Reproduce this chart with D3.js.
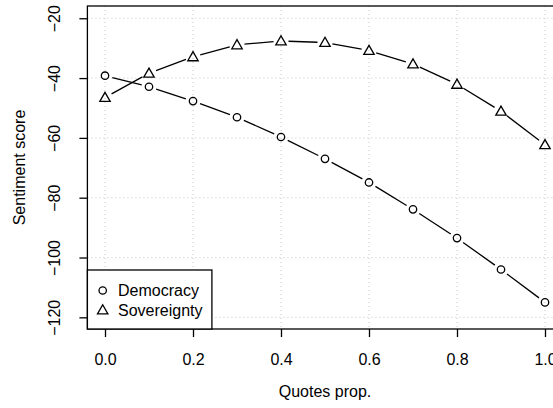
<!DOCTYPE html>
<html>
<head>
<meta charset="utf-8">
<script src="https://cdn.jsdelivr.net/npm/d3@7"></script>
<style>
  body { margin: 0; background: #fff; }
  svg { display: block; font-family: "Liberation Sans", Arial, sans-serif; }
</style>
</head>
<body>
<div id="chart"></div>
<script>
// Sentiment score vs quotes proportion, R base-graphics look

const quotesProp = [0, 0.1, 0.2, 0.3, 0.4, 0.5, 0.6, 0.7, 0.8, 0.9, 1.0];
const democracy = [-39.2, -42.9, -47.7, -53.1, -59.7, -67.0, -74.9, -83.9, -93.5, -104.0, -115.0];
const sovereignty = [-46.5, -38.4, -32.9, -28.9, -27.6, -28.1, -30.8, -35.3, -42.1, -51.1, -62.3];
const xTicks = [0, 0.2, 0.4, 0.6, 0.8, 1.0];
const yTicks = [-20, -40, -60, -80, -100, -120];
const seriesNames = ["Democracy", "Sovereignty"];

const width = 553, height = 408;
const plot = {left: 87.4, right: 562.6, top: 6, bottom: 329};
const fontSize = 16;

const svg = d3.select("#chart").append("svg")
    .attr("width", width)
    .attr("height", height);

// scales (R style: 4% padding around data)
const x = d3.scaleLinear()
    .domain([-0.04, 1.04])
    .range([plot.left, plot.right]);
const y = d3.scaleLinear()
    .domain([-123.9, -15.9])
    .range([plot.bottom, plot.top]);

// dotted grid
svg.append("g").selectAll("line")
    .data(xTicks).enter().append("line")
    .attr("x1", d => x(d)).attr("x2", d => x(d))
    .attr("y1", plot.top).attr("y2", plot.bottom)
    .attr("stroke", "#c8c8c8").attr("stroke-width", 1)
    .attr("stroke-dasharray", "1,3");
svg.append("g").selectAll("line")
    .data(yTicks).enter().append("line")
    .attr("x1", plot.left).attr("x2", plot.right)
    .attr("y1", d => y(d)).attr("y2", d => y(d))
    .attr("stroke", "#c8c8c8").attr("stroke-width", 1)
    .attr("stroke-dasharray", "1,3");

// x axis
const xAxis = svg.append("g")
    .attr("transform", "translate(0," + plot.bottom + ")")
    .call(d3.axisBottom(x).tickValues(xTicks).tickFormat(d3.format(".1f"))
        .tickSize(8).tickPadding(0));
xAxis.select(".domain").remove();
xAxis.selectAll("line").attr("stroke", "#000").attr("stroke-width", 1.3);
xAxis.selectAll("text")
    .attr("font-size", fontSize).attr("fill", "#000")
    .attr("font-family", "Liberation Sans, Arial, sans-serif")
    .attr("y", 36).attr("dy", 0);

// y axis, labels rotated like R's las=0
const yAxis = svg.append("g")
    .attr("transform", "translate(" + plot.left + ",0)")
    .call(d3.axisLeft(y).tickValues(yTicks).tickFormat(d => "\u2212" + Math.abs(d))
        .tickSize(8));
yAxis.select(".domain").remove();
yAxis.selectAll("line").attr("stroke", "#000").attr("stroke-width", 1.3);
yAxis.selectAll(".tick text")
    .attr("font-size", fontSize).attr("fill", "#000")
    .attr("font-family", "Liberation Sans, Arial, sans-serif")
    .attr("text-anchor", "middle")
    .attr("x", 0).attr("y", 0).attr("dy", 0)
    .attr("transform", "translate(-27,0) rotate(-90)");

// box
svg.append("rect")
    .attr("x", plot.left).attr("y", plot.top)
    .attr("width", plot.right - plot.left).attr("height", plot.bottom - plot.top)
    .attr("fill", "none").attr("stroke", "#000").attr("stroke-width", 1.3);

// axis titles
svg.append("text")
    .attr("x", (plot.left + plot.right) / 2).attr("y", 397)
    .attr("text-anchor", "middle").attr("font-size", fontSize)
    .text("Quotes prop.");
svg.append("text")
    .attr("transform", "translate(25," + (plot.top + plot.bottom) / 2 + ") rotate(-90)")
    .attr("text-anchor", "middle").attr("font-size", fontSize)
    .text("Sentiment score");

// type="b" lines: segments with gaps around points
const gap = 7.5;
function drawSeries(values, shape) {
    const pts = quotesProp.map((q, i) => [x(q), y(values[i])]);
    const segs = d3.pairs(pts).map(([a, b]) => {
        const dx = b[0] - a[0], dy = b[1] - a[1];
        const len = Math.hypot(dx, dy);
        const ux = dx / len, uy = dy / len;
        return [a[0] + ux * gap, a[1] + uy * gap, b[0] - ux * gap, b[1] - uy * gap];
    });
    const g = svg.append("g");
    g.selectAll("line").data(segs).enter().append("line")
        .attr("x1", d => d[0]).attr("y1", d => d[1])
        .attr("x2", d => d[2]).attr("y2", d => d[3])
        .attr("stroke", "#000").attr("stroke-width", 1.3);
    drawSymbols(g, pts, shape);
}

function drawSymbols(g, pts, shape) {
    if (shape === "circle") {
        g.selectAll("circle").data(pts).enter().append("circle")
            .attr("cx", d => d[0]).attr("cy", d => d[1]).attr("r", 3.7)
            .attr("fill", "none").attr("stroke", "#000").attr("stroke-width", 1.3);
    } else {
        const s = 5.2;
        g.selectAll("path").data(pts).enter().append("path")
            .attr("d", d => "M" + d[0] + "," + (d[1] - s) +
                "L" + (d[0] + s) + "," + (d[1] + s * 0.75) +
                "L" + (d[0] - s) + "," + (d[1] + s * 0.75) + "Z")
            .attr("fill", "none").attr("stroke", "#000").attr("stroke-width", 1.3);
    }
}

drawSeries(democracy, "circle");
drawSeries(sovereignty, "triangle");

// legend bottom-left
const leg = {x: plot.left, y: 270, w: 124.5, h: plot.bottom - 270};
svg.append("rect")
    .attr("x", leg.x).attr("y", leg.y).attr("width", leg.w).attr("height", leg.h)
    .attr("fill", "#fff").attr("stroke", "#000").attr("stroke-width", 1.3);
const legY = [290.5, 310];
const lg = svg.append("g");
drawSymbols(lg.append("g"), [[102.7, legY[0]]], "circle");
drawSymbols(lg.append("g"), [[102.7, legY[1]]], "triangle");
lg.selectAll("text").data(seriesNames).enter().append("text")
    .attr("x", 118).attr("y", (d, i) => legY[i] + 5.5)
    .attr("font-size", fontSize).text(d => d);
</script>
</body>
</html>
